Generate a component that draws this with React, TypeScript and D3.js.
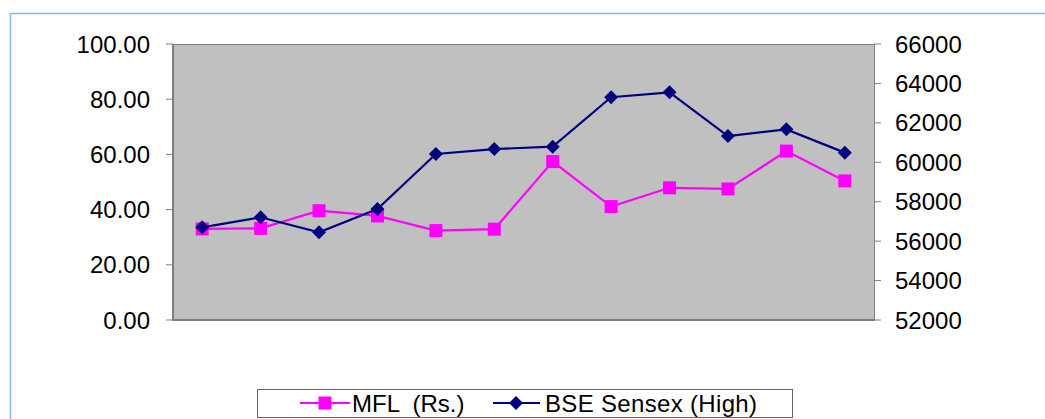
import React from "react";
import * as d3 from "d3";

const categories = ["1", "2", "3", "4", "5", "6", "7", "8", "9", "10", "11", "12"];
const mflValues = [33.0, 33.2, 39.6, 37.7, 32.4, 32.9, 57.4, 41.1, 47.9, 47.5, 61.2, 50.4];
const bseValues = [56700, 57210, 56450, 57630, 60420, 60670, 60790, 63300, 63550, 61330, 61670, 60490];
const leftTicks = [0, 20, 40, 60, 80, 100];
const rightTicks = [52000, 54000, 56000, 58000, 60000, 62000, 64000, 66000];

const W = 1045;
const H = 419;
const plotL = 173;
const plotR = 874;
const plotT = 44;
const plotB = 320;
const FONT = "'Liberation Sans', Arial, sans-serif";
const FS = 24;

export default function App() {
  const x = d3.scaleBand<string>().domain(categories).range([plotL, plotR]);
  const yL = d3.scaleLinear().domain([0, 100]).range([plotB, plotT]);
  const yR = d3.scaleLinear().domain([52000, 66000]).range([plotB, plotT]);
  const cx = (c: string) => (x(c) as number) + x.bandwidth() / 2;

  const mflLine = d3
    .line<number>()
    .x((_, i) => cx(categories[i]))
    .y((d) => yL(d));
  const bseLine = d3
    .line<number>()
    .x((_, i) => cx(categories[i]))
    .y((d) => yR(d));

  const sq = 13;
  const dm = 7;
  const diamond = (px: number, py: number) =>
    `M${px},${py - dm} L${px + dm},${py} L${px},${py + dm} L${px - dm},${py} Z`;

  return (
    <svg
      width={W}
      height={H}
      style={{ position: "absolute", left: 0, top: 0, background: "#fff" }}
      fontFamily={FONT}
    >
      {/* outer chart border */}
      <line x1={10} y1={13.5} x2={W} y2={13.5} stroke="#8DB4E2" strokeWidth={1.5} />
      <line x1={10.5} y1={13} x2={10.5} y2={H} stroke="#8DB4E2" strokeWidth={1.5} />

      {/* plot area */}
      <rect x={plotL} y={plotT} width={plotR - plotL} height={plotB - plotT} fill="#C0C0C0" />
      <line x1={plotL} y1={plotT + 0.5} x2={plotR} y2={plotT + 0.5} stroke="#808080" strokeWidth={1} />
      <line x1={plotR + 0.5} y1={plotT} x2={plotR + 0.5} y2={plotB} stroke="#808080" strokeWidth={1} />
      <line x1={plotL} y1={plotT} x2={plotL} y2={plotB + 1} stroke="#808080" strokeWidth={2} />
      <line x1={plotL - 1} y1={plotB} x2={plotR + 1} y2={plotB} stroke="#808080" strokeWidth={2} />

      {/* left axis */}
      {leftTicks.map((t) => (
        <g key={"l" + t}>
          <line x1={166} x2={plotL} y1={yL(t)} y2={yL(t)} stroke="#808080" strokeWidth={1} />
          <text x={150} y={yL(t)} dy="0.36em" textAnchor="end" fontSize={FS} fill="#000">
            {t.toFixed(2)}
          </text>
        </g>
      ))}

      {/* right axis */}
      {rightTicks.map((t) => (
        <g key={"r" + t}>
          <line x1={plotR} x2={881} y1={yR(t)} y2={yR(t)} stroke="#808080" strokeWidth={1} />
          <text x={895} y={yR(t)} dy="0.36em" textAnchor="start" fontSize={FS} fill="#000">
            {t}
          </text>
        </g>
      ))}

      {/* MFL series */}
      <path d={mflLine(mflValues) || ""} fill="none" stroke="#FF00FF" strokeWidth={2.2} />
      {mflValues.map((v, i) => (
        <rect
          key={"m" + i}
          x={cx(categories[i]) - sq / 2}
          y={yL(v) - sq / 2}
          width={sq}
          height={sq}
          fill="#FF00FF"
        />
      ))}

      {/* BSE series */}
      <path d={bseLine(bseValues) || ""} fill="none" stroke="#000080" strokeWidth={2.2} />
      {bseValues.map((v, i) => (
        <path key={"b" + i} d={diamond(cx(categories[i]), yR(v))} fill="#000080" />
      ))}

      {/* legend */}
      <rect x={257.5} y={389.5} width={535} height={28} fill="#fff" stroke="#666" strokeWidth={1} />
      <line x1={300} x2={350} y1={403} y2={403} stroke="#FF00FF" strokeWidth={2.2} />
      <rect x={325 - sq / 2} y={403 - sq / 2} width={sq} height={sq} fill="#FF00FF" />
      <text x={352} y={403} dy="0.36em" fontSize={FS} fill="#000" style={{ whiteSpace: "pre" }}>
        {"MFL  (Rs.)"}
      </text>
      <line x1={493} x2={540} y1={403} y2={403} stroke="#000080" strokeWidth={2.2} />
      <path d={diamond(516, 403)} fill="#000080" />
      <text x={545} y={403} dy="0.36em" fontSize={FS} fill="#000" textLength={212} lengthAdjust="spacing">
        BSE Sensex (High)
      </text>
    </svg>
  );
}
